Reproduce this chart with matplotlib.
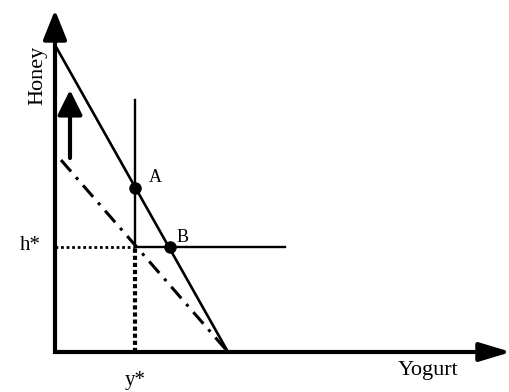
import matplotlib
matplotlib.use("Agg")
import matplotlib.pyplot as plt

# economic diagram values (arbitrary units, origin at the axes corner)
budget_yogurt = [0, 173]          # original budget line endpoints (x)
budget_honey = [307, 0]           # original budget line endpoints (y)
shifted_yogurt = [6, 173]         # dash-dot budget line
shifted_honey = [192, 0]
kink = (80, 105)                  # y*, h*
l_top = 252                       # top of vertical ration line
l_right = 230                     # end of horizontal ration line
point_A = (80, 164)
point_B = (115, 105)
shift_arrow = ([15, 15], [194, 262])
x_max, y_max = 456, 342

plt.rcParams['font.family'] = ['Liberation Serif', 'DejaVu Serif']

fig = plt.figure(figsize=(5.10, 3.92), dpi=100)
ax = fig.add_axes([0, 0, 1, 1])
ax.set_xlim(-55, 455)
ax.set_ylim(-40, 352)
ax.axis('off')

# axes shafts with a sharp corner at the origin
ax.plot([0, 0, x_max - 20], [y_max - 20, 0, 0], color='black', lw=3,
        solid_joinstyle='miter', solid_capstyle='butt')
# arrowheads
ax.annotate('', xy=(0, y_max), xytext=(0, y_max - 22), annotation_clip=False,
            arrowprops=dict(arrowstyle='-|>,head_length=1.0,head_width=0.4',
                            mutation_scale=18, lw=3, color='black',
                            shrinkA=0, shrinkB=0))
ax.annotate('', xy=(x_max, 0), xytext=(x_max - 22, 0), annotation_clip=False,
            arrowprops=dict(arrowstyle='-|>,head_length=1.0,head_width=0.3',
                            mutation_scale=19, lw=3, color='black',
                            shrinkA=0, shrinkB=0))

# budget lines
ax.plot(budget_yogurt, budget_honey, color='black', lw=1.9, solid_capstyle='butt')
ax.plot(shifted_yogurt, shifted_honey, color='black', lw=2.2,
        linestyle=(0, (5, 2.5, 1, 2.5)))

# ration L-shape
ax.plot([kink[0], kink[0], l_right], [l_top, kink[1], kink[1]],
        color='black', lw=1.7)

# dotted guides
ax.plot([0, kink[0]], [kink[1], kink[1]], color='black', lw=2.0,
        linestyle=(0, (1, 1)))
ax.plot([kink[0], kink[0]], [0, kink[1]], color='black', lw=3.0,
        linestyle=(0, (1, 0.7)))

# points
ax.plot(*point_A, 'o', color='black', markersize=8)
ax.plot(*point_B, 'o', color='black', markersize=8)

# shift arrow
ax.annotate('', xy=(shift_arrow[0][1], shift_arrow[1][1]),
            xytext=(shift_arrow[0][0], shift_arrow[1][0]),
            arrowprops=dict(arrowstyle='-|>,head_length=1.0,head_width=0.5',
                            mutation_scale=15, lw=3, color='black',
                            shrinkA=0, shrinkB=0))

# labels
ax.text(-17, 277, 'Honey', rotation=90, ha='center', va='center', fontsize=16)
ax.text(-25, 107, 'h*', ha='center', va='center', fontsize=15)
ax.text(80, -28, 'y*', ha='center', va='center', fontsize=15)
ax.text(373, -18, 'Yogurt', ha='center', va='center', fontsize=16)
ax.text(100, 175, 'A', ha='center', va='center', fontsize=13)
ax.text(128, 115, 'B', ha='center', va='center', fontsize=13)

fig.savefig('out.png', dpi=100)
